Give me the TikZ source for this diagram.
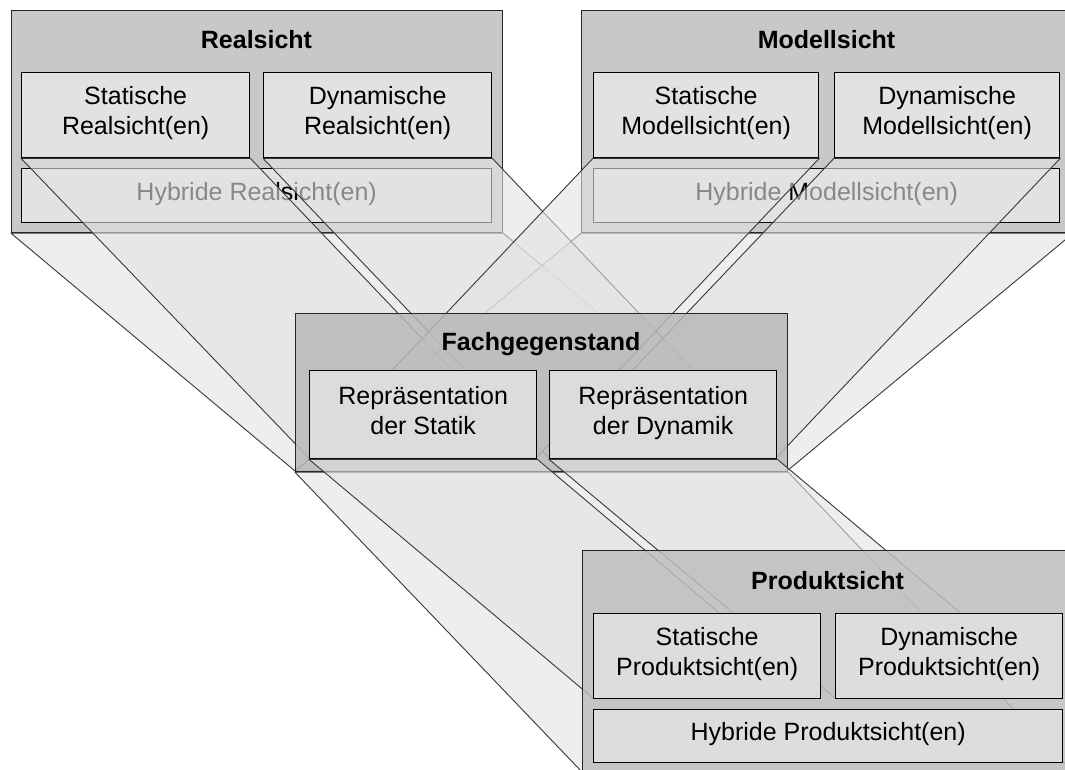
\documentclass[tikz,border=0pt]{standalone}
\usepackage{fontspec}
\setmainfont{Liberation Sans}
\usetikzlibrary{calc}

\definecolor{groupgray}{HTML}{C8C8C8}
\definecolor{fachgray}{HTML}{B8B8B8}
\definecolor{prodgray}{HTML}{BEBEBE}
\definecolor{boxgray}{HTML}{E2E2E2}
\definecolor{beamgray}{HTML}{E3E3E3}
\definecolor{edgegray}{HTML}{383838}

% strut that keeps every text line at the same height and depth
\newcommand\vstrut{\rule[-9pt]{0pt}{21pt}}
\newcommand\twoln[2]{\vstrut #1\\\vstrut #2}

\begin{document}
\begin{tikzpicture}[x=1pt,y=-1pt,
  font=\fontsize{25}{30}\selectfont,
  group/.style={draw=black!85, line width=1.2pt, fill=groupgray, rectangle,
                inner sep=0pt, anchor=north west},
  ibox/.style={draw=black, line width=1.3pt, fill=boxgray, rectangle,
               inner sep=0pt, anchor=north west, align=center},
  grouptitle/.style={font=\fontsize{25}{30}\selectfont\bfseries, anchor=base,
                     inner sep=0pt},
  beam/.style={fill=beamgray, fill opacity=0.6, draw=edgegray,
               line width=0.9pt, line join=round},
  veil/.style={fill opacity=0.85, text opacity=1, draw opacity=1},
]
\useasboundingbox (0,0) rectangle (1065,769);
\clip (0,0) rectangle (1065,769);
\fill[white] (0,0) rectangle (1065,769);

% ---------- Realsicht ----------
\node[group, minimum width=491pt, minimum height=222pt] (real) at (11,10) {};
\node[grouptitle] (realT) at (256.5,48) {Realsicht};
\node[ibox, minimum width=228pt, minimum height=85pt] (rsS) at (21,72)
  {\twoln{Statische}{Realsicht(en)}};
\node[ibox, minimum width=228pt, minimum height=85pt] (rsD) at (263,72)
  {\twoln{Dynamische}{Realsicht(en)}};
\node[ibox, minimum width=470pt, minimum height=54pt] (rsH) at (21,168)
  {\vstrut Hybride Realsicht(en)};

% ---------- Modellsicht ----------
\node[group, minimum width=491pt, minimum height=222pt] (modell) at (581,10) {};
\node[grouptitle] (modellT) at (826.5,48) {Modellsicht};
\node[ibox, minimum width=225pt, minimum height=85pt] (msS) at (593,72)
  {\twoln{Statische}{Modellsicht(en)}};
\node[ibox, minimum width=225pt, minimum height=85pt] (msD) at (834,72)
  {\twoln{Dynamische}{Modellsicht(en)}};
\node[ibox, minimum width=466pt, minimum height=54pt] (msH) at (593,168)
  {\vstrut Hybride Modellsicht(en)};

% ---------- target corners on the subject ----------
\coordinate (fachSW) at (295,471);
\coordinate (fachSE) at (787,471);
\coordinate (fSsw) at (309,458);
\coordinate (fSse) at (536,458);
\coordinate (fDsw) at (549,458);
\coordinate (fDse) at (776,458);

% ---------- projections from the views onto the subject ----------
\draw[beam] (real.south west) -- (real.south east) -- (fachSE) -- (fachSW) -- cycle;
\draw[beam] (modell.south west) -- (modell.south east) -- (fachSE) -- (fachSW) -- cycle;
\draw[beam] (rsS.south west) -- (rsS.south east) -- (fSse) -- (fSsw) -- cycle;
\draw[beam] (rsD.south west) -- (rsD.south east) -- (fDse) -- (fDsw) -- cycle;
\draw[beam] (msS.south west) -- (msS.south east) -- (fSse) -- (fSsw) -- cycle;
\draw[beam] (msD.south west) -- (msD.south east) -- (fDse) -- (fDsw) -- cycle;

% ---------- Fachgegenstand ----------
\node[group, veil, fill=fachgray, minimum width=492pt, minimum height=158pt] (fach) at (295,313) {};
\node[grouptitle] (fachT) at (541,350) {Fachgegenstand};
\node[ibox, veil, minimum width=227pt, minimum height=88pt] (fS) at (309,370)
  {\twoln{Repräsentation}{der Statik}};
\node[ibox, veil, minimum width=227pt, minimum height=88pt] (fD) at (549,370)
  {\twoln{Repräsentation}{der Dynamik}};

% ---------- target corners on the product ----------
\coordinate (prodSW) at (582,772);
\coordinate (prodSE) at (1073,772);
\coordinate (pSsw) at (593,698);
\coordinate (pSse) at (820,698);
\coordinate (pDsw) at (835,698);
\coordinate (pDse) at (1062,698);

% ---------- projections from the subject onto the product ----------
\draw[beam] (fach.south west) -- (fach.south east) -- (prodSE) -- (prodSW) -- cycle;
\draw[beam] (fS.south west) -- (fS.south east) -- (pSse) -- (pSsw) -- cycle;
\draw[beam] (fD.south west) -- (fD.south east) -- (pDse) -- (pDsw) -- cycle;

% ---------- Produktsicht ----------
\node[group, veil, fill=prodgray, minimum width=491pt, minimum height=222pt] (prod) at (582,550) {};
\node[grouptitle] (prodT) at (827.5,589) {Produktsicht};
\node[ibox, veil, minimum width=227pt, minimum height=85pt] (pS) at (593,613)
  {\twoln{Statische}{Produktsicht(en)}};
\node[ibox, veil, minimum width=227pt, minimum height=85pt] (pD) at (835,613)
  {\twoln{Dynamische}{Produktsicht(en)}};
\node[ibox, veil, minimum width=469pt, minimum height=53pt] (pH) at (593,709)
  {\vstrut Hybride Produktsicht(en)};
\end{tikzpicture}
\end{document}
